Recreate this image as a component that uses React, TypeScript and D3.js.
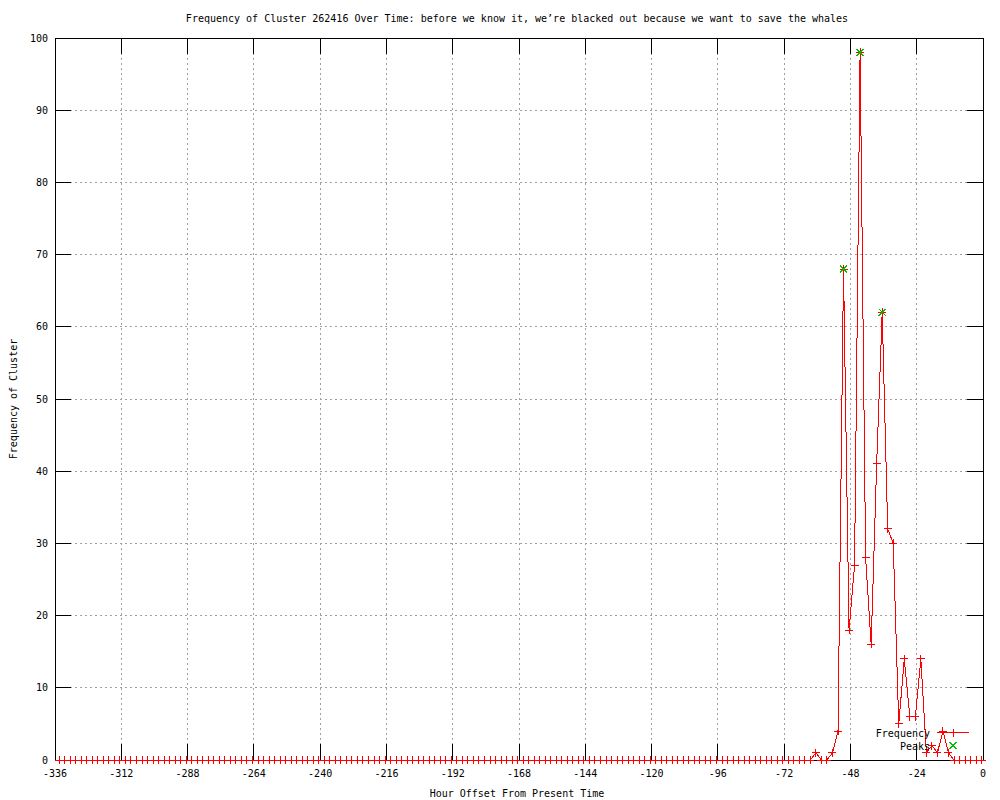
import React from "react";
import * as d3 from "d3";

// sampling grid: one bin every 2 hours, centred on the odd half hours
const hours = d3.range(-334.5, 0, 2);

const frequency = [
  0, 0, 0, 0, 0, 0, 0, 0, 0, 0, 0, 0, 0, 0, 0, 0, 0, 0, 0, 0,
  0, 0, 0, 0, 0, 0, 0, 0, 0, 0, 0, 0, 0, 0, 0, 0, 0, 0, 0, 0,
  0, 0, 0, 0, 0, 0, 0, 0, 0, 0, 0, 0, 0, 0, 0, 0, 0, 0, 0, 0,
  0, 0, 0, 0, 0, 0, 0, 0, 0, 0, 0, 0, 0, 0, 0, 0, 0, 0, 0, 0,
  0, 0, 0, 0, 0, 0, 0, 0, 0, 0, 0, 0, 0, 0, 0, 0, 0, 0, 0, 0,
  0, 0, 0, 0, 0, 0, 0, 0, 0, 0, 0, 0, 0, 0, 0, 0, 0, 0, 0, 0,
  0, 0, 0, 0, 0, 0, 0, 0, 0, 0, 0, 0, 0, 0, 0, 0, 0,
  1, 0, 0, 1, 4, 68, 18, 27, 98, 28, 16, 41, 62, 32, 30, 5, 14, 6, 6, 14,
  1, 2, 1, 4, 1,
  0, 0, 0, 0, 0, 0,
];

const peakHours = [-50.5, -44.5, -36.5];
const peakValues = [68, 98, 62];

const xTicks = [-336, -312, -288, -264, -240, -216, -192, -168, -144, -120, -96, -72, -48, -24, 0];
const yTicks = [0, 10, 20, 30, 40, 50, 60, 70, 80, 90, 100];

const title =
  "Frequency of Cluster 262416 Over Time: before we know it, we\u2019re blacked out because we want to save the whales";

const W = 1000;
const H = 800;
const left = 55;
const right = 983;
const top = 38;
const bottom = 760;
const tick = 16;
const font = "'DejaVu Sans Mono', monospace";
const red = "#ff0000";
const green = "#00c000";

const plus = (x: number, y: number, r = 4) => `M${x - r},${y}H${x + r}M${x},${y - r}V${y + r}`;
const cross = (x: number, y: number, r = 3.5) =>
  `M${x - r},${y - r}L${x + r},${y + r}M${x - r},${y + r}L${x + r},${y - r}`;

export default function App() {
  const x = d3.scaleLinear().domain([-336, 0]).range([left, right]);
  const y = d3.scaleLinear().domain([0, 100]).range([bottom, top]);

  const points = hours.map((h, i) => [x(h), y(frequency[i])] as [number, number]);
  const line = d3.line()(points) || "";

  return (
    <svg
      width={W}
      height={H}
      style={{ position: "absolute", left: 0, top: 0, background: "#fff" }}
      fontFamily={font}
      fontSize={10}
    >
      <rect width={W} height={H} fill="#fff" />
      <g shapeRendering="crispEdges">
        {/* grid */}
        {xTicks.slice(1, -1).map(t => (
          <line key={"gx" + t} x1={x(t)} x2={x(t)} y1={top} y2={bottom} stroke="#a0a0a0" strokeDasharray="2,3" />
        ))}
        {yTicks.slice(1, -1).map(t => (
          <line key={"gy" + t} x1={left} x2={right} y1={y(t)} y2={y(t)} stroke="#a0a0a0" strokeDasharray="2,3" />
        ))}
        {/* ticks, mirrored */}
        {xTicks.map(t => (
          <g key={"tx" + t} stroke="#000">
            <line x1={x(t)} x2={x(t)} y1={bottom} y2={bottom - tick} />
            <line x1={x(t)} x2={x(t)} y1={top} y2={top + tick} />
          </g>
        ))}
        {yTicks.map(t => (
          <g key={"ty" + t} stroke="#000">
            <line x1={left} x2={left + tick} y1={y(t)} y2={y(t)} />
            <line x1={right} x2={right - tick} y1={y(t)} y2={y(t)} />
          </g>
        ))}
        <rect x={left} y={top} width={right - left} height={bottom - top} fill="none" stroke="#000" />
      </g>

      {/* tick labels */}
      {xTicks.map(t => (
        <text key={"lx" + t} x={x(t)} y={777} textAnchor="middle">
          {t}
        </text>
      ))}
      {yTicks.map(t => (
        <text key={"ly" + t} x={48} y={y(t) + 3.5} textAnchor="end">
          {t}
        </text>
      ))}

      <text x={517} y={22} textAnchor="middle">
        {title}
      </text>
      <text x={517} y={797} textAnchor="middle">
        Hour Offset From Present Time
      </text>
      <text transform={`translate(17,${(top + bottom) / 2}) rotate(-90)`} textAnchor="middle">
        Frequency of Cluster
      </text>

      {/* frequency series */}
      <g shapeRendering="crispEdges">
        <path d={line} fill="none" stroke={red} strokeWidth={1} />
        {points.map(([px, py], i) => (
          <path key={"p" + i} d={plus(px, py)} stroke={red} strokeWidth={1} fill="none" />
        ))}
      </g>

      {/* peaks */}
      <g shapeRendering="crispEdges">
        {peakHours.map((h, i) => (
          <path key={"k" + i} d={cross(x(h), y(peakValues[i]))} stroke={green} strokeWidth={1} fill="none" />
        ))}
      </g>

      {/* legend */}
      <g shapeRendering="crispEdges">
        <text x={930} y={736.5} textAnchor="end">
          Frequency
        </text>
        <path d={`M937,732.5H969`} stroke={red} strokeWidth={1} fill="none" />
        <path d={plus(953, 732.5)} stroke={red} strokeWidth={1} fill="none" />
        <text x={930} y={749.5} textAnchor="end">
          Peaks
        </text>
        <path d={cross(953, 745.5)} stroke={green} strokeWidth={1} fill="none" />
      </g>
    </svg>
  );
}
